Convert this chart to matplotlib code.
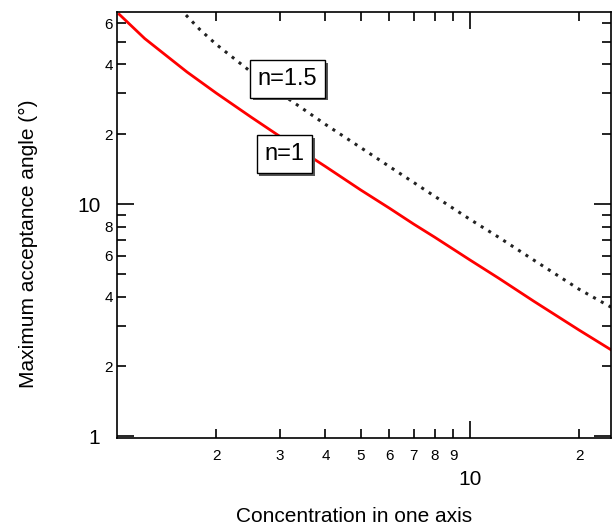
import matplotlib
matplotlib.use("Agg")
import matplotlib.pyplot as plt
import matplotlib.patheffects as pe
from matplotlib.ticker import FixedLocator, FixedFormatter

plt.rcParams['font.family'] = ['Liberation Sans', 'DejaVu Sans']

# curva n=1
conc_n1 = [1.08, 1.27, 1.66, 2.0, 2.5, 3.0, 3.5, 4.0, 5.0, 6.0, 7.0, 8.0, 10.0, 12.0, 15.0, 20.0, 24.5]
ang_n1 = [65.5, 51.5, 37.0, 30.0, 23.6, 19.5, 16.6, 14.5, 11.5, 9.6, 8.2, 7.2, 5.75, 4.8, 3.82, 2.87, 2.36]

# curva n=1.5
conc_n15 = [1.65, 1.8, 2.0, 2.5, 3.0, 4.0, 5.0, 6.0, 8.0, 10.0, 12.0, 15.0, 20.0, 24.5]
ang_n15 = [65.0, 56.4, 48.6, 36.9, 30.0, 22.0, 17.5, 14.5, 10.8, 8.6, 7.2, 5.74, 4.3, 3.6]

xmayor = [10]
xmayor_txt = ["10"]
xmenor = [2, 3, 4, 5, 6, 7, 8, 9, 20]
xmenor_txt = ["2", "3", "4", "5", "6", "7", "8", "9", "2"]
ymayor = [1, 10]
ymayor_txt = ["1", "10"]
ymenor = [2, 3, 4, 5, 6, 7, 8, 9, 20, 30, 40, 50, 60]
ymenor_txt = ["2", "", "4", "", "6", "", "8", "", "2", "", "4", "", "6"]

fig = plt.figure(figsize=(6.12, 5.31), dpi=100)
ax = fig.add_axes([117/612, 1 - 438/531, (611 - 117)/612, (438 - 12)/531])
ax.set_xscale('log')
ax.set_yscale('log')

ax.plot(conc_n1, ang_n1, color='#ff0000', lw=2.0, zorder=2)
ax.plot(conc_n15, ang_n15, color='#222222', lw=2.2, linestyle=(0, (1, 1.9)), zorder=2)

ax.set_xlim(1.065, 24.5)
ax.set_ylim(0.985, 67)

ax.xaxis.set_major_locator(FixedLocator(xmayor))
ax.xaxis.set_major_formatter(FixedFormatter(xmayor_txt))
ax.xaxis.set_minor_locator(FixedLocator(xmenor))
ax.xaxis.set_minor_formatter(FixedFormatter(xmenor_txt))
ax.yaxis.set_major_locator(FixedLocator(ymayor))
ax.yaxis.set_major_formatter(FixedFormatter(ymayor_txt))
ax.yaxis.set_minor_locator(FixedLocator(ymenor))
ax.yaxis.set_minor_formatter(FixedFormatter(ymenor_txt))

ax.tick_params(which='both', direction='in', top=True, right=True, width=1.2)
ax.tick_params(which='major', length=12.5, labelsize=15)
ax.tick_params(which='minor', length=6.5, labelsize=11)
ax.tick_params(axis='x', which='major', pad=23)
ax.tick_params(axis='x', which='minor', pad=8)
ax.tick_params(axis='y', which='major', pad=12)
ax.tick_params(axis='y', which='minor', pad=3)
for s in ax.spines.values():
    s.set_linewidth(1.2)

ax.set_xlabel('Concentration in one axis', fontsize=15)
ax.set_ylabel('Maximum acceptance angle (°)', fontsize=15)
ax.xaxis.set_label_coords(0.48, -0.162)
ax.yaxis.set_label_coords(-0.16, 0.455)

for txt, x, y in [("n=1.5", 3.14, 34.6), ("n=1", 3.08, 16.4)]:
    t = ax.text(x, y, txt, fontsize=17, ha='center', va='center', zorder=5,
                bbox=dict(boxstyle='square,pad=0.33', fc='white', ec='black', lw=1.0))
    t.get_bbox_patch().set_path_effects([
        pe.withSimplePatchShadow(offset=(2, -2), shadow_rgbFace='#555555', alpha=1.0)])

fig.savefig('out.png', dpi=100)
